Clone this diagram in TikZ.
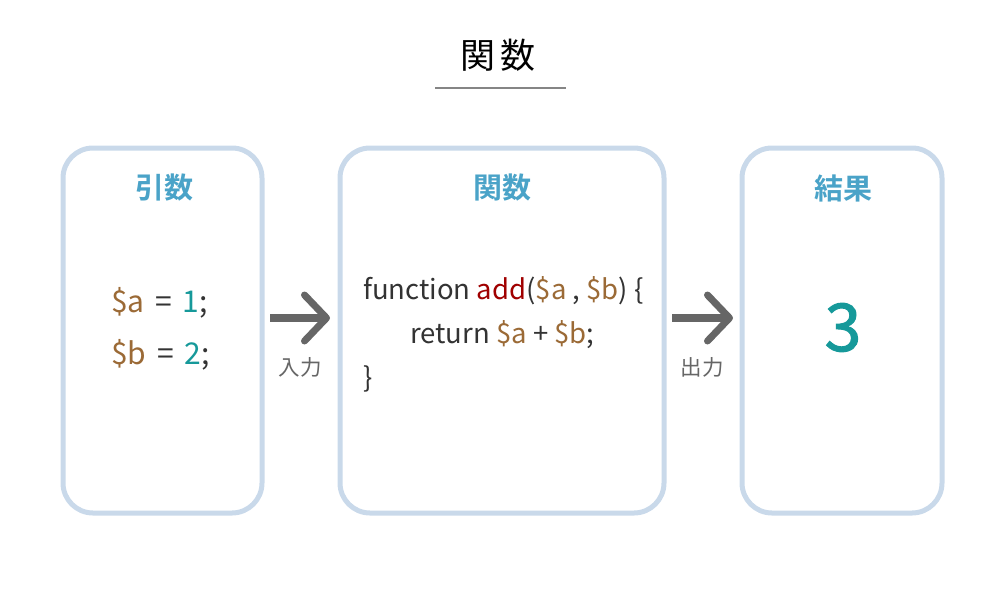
\documentclass[tikz,border=0pt]{standalone}
\usepackage{fontspec}
\setmainfont{Noto Sans CJK JP}[BoldFont={Noto Sans CJK JP Bold}]
\newfontfamily\resultfont{Noto Sans CJK JP}[FakeBold=1.6]
\usepackage{tikz}
\usetikzlibrary{positioning,arrows.meta}

\definecolor{boxline}{HTML}{C9D9EA}
\definecolor{headblue}{HTML}{4AA3C8}
\definecolor{numteal}{HTML}{16999A}
\definecolor{varbrown}{HTML}{9B6A36}
\definecolor{fnred}{HTML}{A00000}
\definecolor{codegray}{HTML}{333333}
\definecolor{arrowgray}{HTML}{666666}

\newcommand{\va}[1]{\textcolor{varbrown}{#1}}
\newcommand{\nm}[1]{\textcolor{numteal}{#1}}

\tikzset{
  panel/.style={draw=boxline, line width=5pt, rounded corners=30pt, fill=white},
  head/.style={text=headblue, font=\fontsize{29}{32}\selectfont\bfseries},
  code/.style={text=codegray, font=\fontsize{27.5}{30}\selectfont, anchor=base west, inner sep=0pt},
  argcode/.style={code, font=\fontsize{30}{34}\selectfont},
  flow/.style={draw=arrowgray, line width=8pt, -{Straight Barb[length=22pt, width=46pt, line width=7pt, round]}},
  flowlabel/.style={text=arrowgray, font=\fontsize{21.5}{24}\selectfont}
}

\begin{document}
\begin{tikzpicture}[x=1pt, y=-1pt]
  \useasboundingbox (0,0) rectangle (1000,600);

  % title
  \node (title) at (498,55) {\fontsize{35}{40}\selectfont 関\hspace{5pt}数};
  \draw[arrowgray!80, line width=2pt] (435,88) -- (566,88);

  % panels
  \node[panel, minimum width=199pt, minimum height=365pt] (args) at (162.5,330.5) {};
  \node[panel, minimum width=324pt, minimum height=365pt] (func) at (502,330.5) {};
  \node[panel, minimum width=200pt, minimum height=365pt] (res)  at (842,330.5) {};

  % headers
  \node[head] (argshead) at (164,188) {引数};
  \node[head] (funchead) at (502,188) {関数};
  \node[head] (reshead)  at (843,188) {結果};

  % arguments
  \node[argcode] (arga) at (111,312) {\va{\$a}\hspace{4pt} = \hspace{4pt}\nm{1};};
  \node[argcode] (argb) at (111,364) {\va{\$b}\hspace{4pt} = \hspace{4pt}\nm{2};};

  % function body
  \node[code] (fn1) at (363,299) {function \textcolor{fnred}{add}(\va{\$a} , \va{\$b}) \{};
  \node[code] (fn2) at (410,343) {return \va{\$a} + \va{\$b};};
  \node[code] (fn3) at (363,387) {\}};

  % result
  \node[text=numteal, font=\resultfont\fontsize{66}{72}\selectfont, anchor=base] (three) at (843,351) {3};

  % arrows
  \coordinate (in-s)  at (270,318);
  \coordinate (in-e)  at (330,318);
  \coordinate (out-s) at (672,318);
  \coordinate (out-e) at (733,318);
  \draw[flow] (in-s) -- (in-e);
  \draw[flow] (out-s) -- (out-e);
  \node[flowlabel] (inlabel)  at (300,367) {入力};
  \node[flowlabel] (outlabel) at (702,367) {出力};
\end{tikzpicture}
\end{document}
